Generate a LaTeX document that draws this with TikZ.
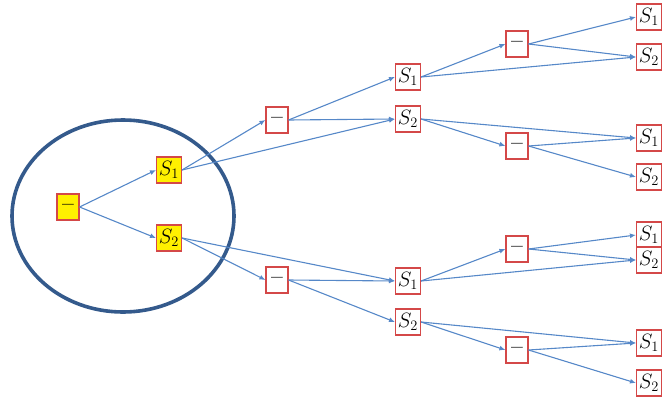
\documentclass[tikz,border=0pt]{standalone}
\usetikzlibrary{arrows.meta}
\definecolor{boxred}{RGB}{212,72,72}
\definecolor{arrblue}{RGB}{86,136,200}
\definecolor{ellblue}{RGB}{52,90,140}
\definecolor{boxyellow}{RGB}{255,240,0}
\begin{document}
\begin{tikzpicture}[x=1pt,y=-1pt,
  sbox/.style={draw=boxred,line width=1.1pt,fill=white,minimum width=25pt,minimum height=26pt,inner sep=0pt,font=\fontsize{21}{24}\selectfont},
  dbox/.style={sbox,minimum width=22pt},
  ybox/.style={fill=boxyellow},
  edge/.style={draw=arrblue,line width=1.1pt,-{Latex[length=6pt,width=5pt]}}]
\useasboundingbox (0,0) rectangle (663,399);
\draw[ellblue,line width=3.6pt] (123,216) ellipse [x radius=111, y radius=96];
% root and first level
\node[dbox,ybox] (r) at (68,207) {\textbf{--}};
\node[sbox,ybox] (a1) at (169,170) {$S_1$};
\node[sbox,ybox] (a2) at (169,238) {$S_2$};
% second level
\node[dbox] (b1) at (277,120) {\textbf{--}};
\node[dbox] (b2) at (277,280) {\textbf{--}};
\node[sbox] (c1) at (408,77) {$S_1$};
\node[sbox] (c2) at (408,119) {$S_2$};
\node[sbox] (c3) at (408,281) {$S_1$};
\node[sbox] (c4) at (408,322) {$S_2$};
% third level
\node[dbox] (d1) at (517,44) {\textbf{--}};
\node[dbox] (d2) at (517,146) {\textbf{--}};
\node[dbox] (d3) at (517,249) {\textbf{--}};
\node[dbox] (d4) at (517,350) {\textbf{--}};
\node[sbox] (e1) at (649,17) {$S_1$};
\node[sbox] (e2) at (649,57) {$S_2$};
\node[sbox] (e3) at (649,138) {$S_1$};
\node[sbox] (e4) at (649,177) {$S_2$};
\node[sbox] (e5) at (649,235) {$S_1$};
\node[sbox] (e6) at (649,260) {$S_2$};
\node[sbox] (e7) at (649,343) {$S_1$};
\node[sbox] (e8) at (649,383) {$S_2$};
% edges
\path[edge] (r.east) -- (a1.west);
\path[edge] (r.east) -- (a2.west);
\path[edge] (a1.east) -- (b1.west);
\path[edge] (a1.east) -- (c2.west);
\path[edge] (b1.east) -- (c1.west);
\path[edge] (b1.east) -- (c2.west);
\path[edge] (a2.east) -- (b2.west);
\path[edge] (a2.east) -- (c3.west);
\path[edge] (b2.east) -- (c3.west);
\path[edge] (b2.east) -- (c4.west);
\path[edge] (c1.east) -- (d1.west);
\path[edge] (c1.east) -- (e2.west);
\path[edge] (d1.east) -- (e1.west);
\path[edge] (d1.east) -- (e2.west);
\path[edge] (c2.east) -- (e3.west);
\path[edge] (c2.east) -- (d2.west);
\path[edge] (d2.east) -- (e3.west);
\path[edge] (d2.east) -- (e4.west);
\path[edge] (c3.east) -- (d3.west);
\path[edge] (c3.east) -- (e6.west);
\path[edge] (d3.east) -- (e5.west);
\path[edge] (d3.east) -- (e6.west);
\path[edge] (c4.east) -- (e7.west);
\path[edge] (c4.east) -- (d4.west);
\path[edge] (d4.east) -- (e7.west);
\path[edge] (d4.east) -- (e8.west);
\end{tikzpicture}
\end{document}
